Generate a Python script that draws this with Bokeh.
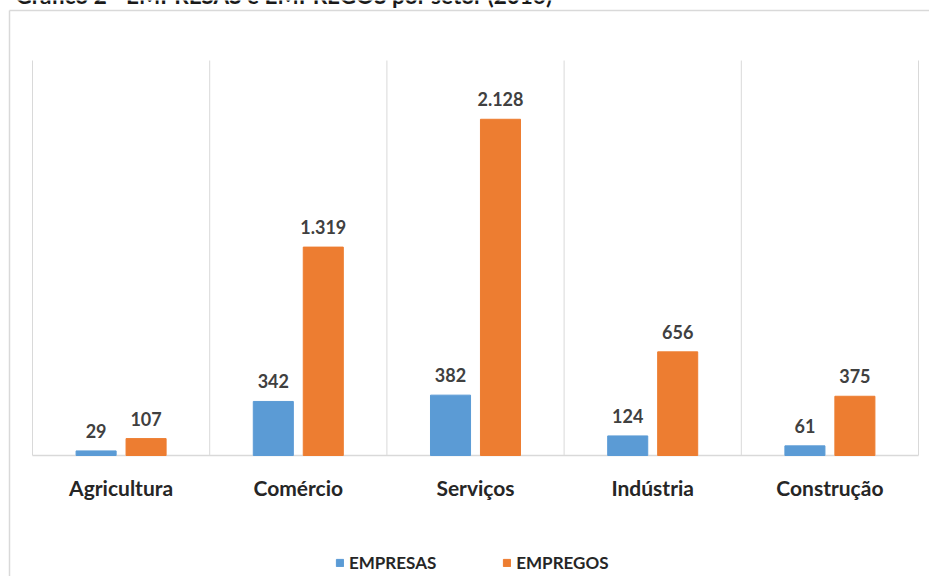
from bokeh.plotting import figure
from bokeh.models import Range1d, ColumnDataSource, Label, Legend, LegendItem
from bokeh.core.properties import value
from bokeh.embed import file_html
from bokeh.resources import INLINE

categories = ["Agricultura", "Comércio", "Serviços", "Indústria", "Construção"]
empresas = [29, 342, 382, 124, 61]
empregos = [107, 1319, 2128, 656, 375]
series_names = ["EMPRESAS", "EMPREGOS"]
title_text = "Gráfico 2 - EMPRESAS e EMPREGOS por setor (2016)"
y_max = 2500

BLUE = "#5B9BD5"
ORANGE = "#ED7D31"
GRID = "#d9d9d9"
FONT = "Lato"
W, H = 929, 576

# pixel layout of the plotting area (frame covers the whole canvas)
PX_LEFT, PX_RIGHT, PX_TOP, PX_BASE = 32, 918, 60, 455
n = len(categories)
SX = (PX_RIGHT - PX_LEFT) / n
SY = (PX_BASE - PX_TOP) / y_max

def xd(px):
    return (px - PX_LEFT) / SX

def yd(py):
    return (PX_BASE - py) / SY

def fmt(v):
    return f"{v:,}".replace(",", ".")

centers = [i + 0.5 for i in range(n)]
off = 0.141
bw = 0.226

src_e = ColumnDataSource(dict(x=[c - off for c in centers], y=empresas,
                              lab=[fmt(v) for v in empresas]))
src_g = ColumnDataSource(dict(x=[c + off for c in centers], y=empregos,
                              lab=[fmt(v) for v in empregos]))

p = figure(width=W, height=H, output_backend="svg", toolbar_location=None,
           x_range=Range1d(xd(0), xd(W)), y_range=Range1d(yd(H), yd(0)),
           min_border=0, x_axis_location=None, y_axis_location=None)
p.background_fill_color = "white"
p.border_fill_color = "white"
p.outline_line_color = None
p.xgrid.visible = False
p.ygrid.visible = False

# vertical gridlines at category boundaries and baseline
bounds = list(range(n + 1))
p.segment(x0=bounds, y0=[0] * len(bounds), x1=bounds, y1=[y_max] * len(bounds),
          line_color=GRID, line_width=1)
p.segment(x0=[0], y0=[0], x1=[n], y1=[0], line_color=GRID, line_width=1.5)

# outer frame (left and top edges visible)
p.segment(x0=[xd(9), xd(9)], y0=[yd(10), yd(10)], x1=[xd(9), xd(W + 5)],
          y1=[yd(H + 5), yd(10)], line_color=GRID, line_width=1.5)

r1 = p.vbar(x="x", top="y", width=bw, source=src_e, color=BLUE)
r2 = p.vbar(x="x", top="y", width=bw, source=src_g, color=ORANGE)

for src in (src_e, src_g):
    p.text(x="x", y="y", text="lab", source=src, text_align="center",
           text_baseline="bottom", y_offset=-13, text_font=value(FONT),
           text_font_style="bold", text_font_size="18px", text_color="#404040")

# category labels
p.text(x=centers, y=[0] * n, text=categories, text_align="center",
       text_baseline="middle", y_offset=32, text_font=value(FONT),
       text_font_style="bold", text_font_size="21px", text_color="#262626")

# legend
legend = Legend(items=[LegendItem(label=series_names[0], renderers=[r1]),
                       LegendItem(label=series_names[1], renderers=[r2])],
                orientation="horizontal", location=(335, 3),
                label_text_font=FONT, label_text_font_style="bold",
                label_text_font_size="17px", label_text_color="#262626",
                glyph_width=9, glyph_height=9, label_standoff=5, spacing=66,
                background_fill_alpha=0, border_line_color=None, padding=0, margin=0)
p.add_layout(legend, "center")

# title, cut by the top edge as in the source image
p.add_layout(Label(x=15, y=H + 5, x_units="screen", y_units="screen", text=title_text,
                   text_font=FONT, text_font_style="bold", text_font_size="22.5px",
                   text_color="#1a1a1a", text_baseline="alphabetic"))

open("out.html", "w").write(file_html(p, INLINE))
